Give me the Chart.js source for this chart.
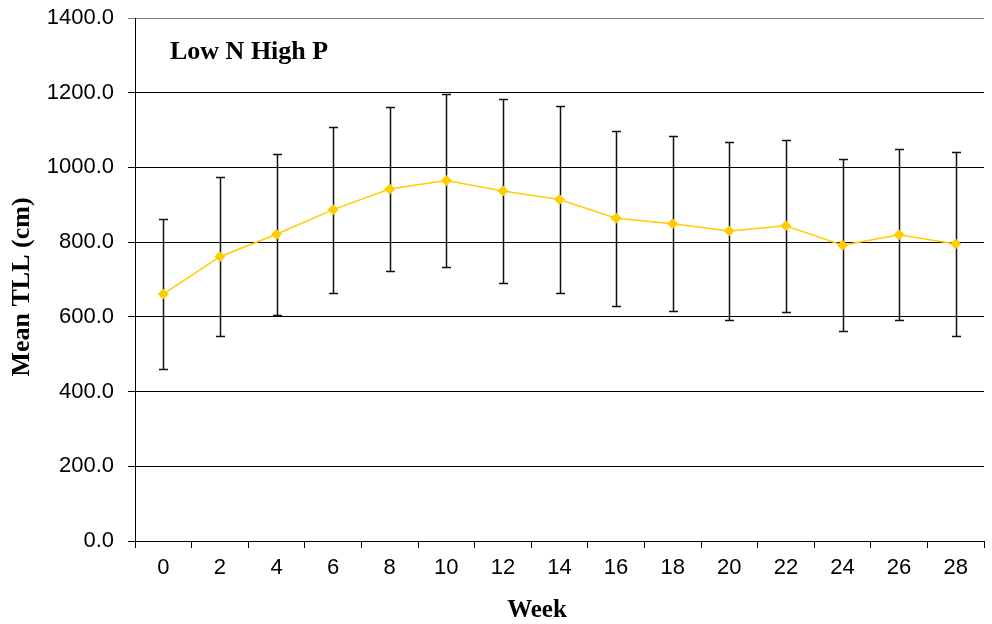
<!DOCTYPE html>
<html>
<head>
<meta charset="utf-8">
<script src="https://cdn.jsdelivr.net/npm/chart.js@4/dist/chart.umd.min.js"></script>
<style>
  html, body { margin: 0; padding: 0; background: #fff; }
  #wrap { width: 992px; height: 624px; position: relative; }
</style>
</head>
<body>
<div id="wrap"><canvas id="c" width="992" height="624"></canvas></div>
<script>
// Weekly mean total leaf length with standard deviation
const weeks = ['0', '2', '4', '6', '8', '10', '12', '14', '16', '18', '20', '22', '24', '26', '28'];
const meanTLL = [661, 761, 821, 887, 942, 965, 937, 914, 864, 849, 830, 844, 792, 820, 795];
const sdTLL = [201, 213, 215, 222, 219, 231, 247, 251, 234, 234, 239, 230, 230, 229, 246];
const yTicks = [0, 200, 400, 600, 800, 1000, 1200, 1400];
const panelLabel = 'Low N High P';
const xTitle = 'Week';
const yTitle = 'Mean TLL (cm)';

const AREA = { left: 135, right: 984, top: 18, bottom: 541 };

// Vertical error bars with caps, drawn beneath the line and markers
const errorBars = {
  id: 'errorBars',
  beforeDatasetsDraw(chart) {
    const ctx = chart.ctx;
    const yScale = chart.scales.y;
    const meta = chart.getDatasetMeta(0);
    ctx.save();
    ctx.strokeStyle = '#111';
    ctx.lineWidth = 1.5;
    meta.data.forEach((pt, i) => {
      const x = Math.round(pt.x) + 0.5;
      const yHi = Math.round(yScale.getPixelForValue(meanTLL[i] + sdTLL[i])) + 0.5;
      const yLo = Math.round(yScale.getPixelForValue(meanTLL[i] - sdTLL[i])) + 0.5;
      ctx.beginPath();
      ctx.moveTo(x, yHi); ctx.lineTo(x, yLo);
      ctx.moveTo(x - 4.5, yHi); ctx.lineTo(x + 4.5, yHi);
      ctx.moveTo(x - 4.5, yLo); ctx.lineTo(x + 4.5, yLo);
      ctx.stroke();
    });
    ctx.restore();
  }
};

// Panel label and axis titles
const labels = {
  id: 'labels',
  afterDraw(chart) {
    const ctx = chart.ctx;
    ctx.save();
    ctx.fillStyle = '#000';
    ctx.font = 'bold 26px "Liberation Serif", "Times New Roman", serif';
    ctx.textAlign = 'left';
    ctx.textBaseline = 'alphabetic';
    ctx.fillText(panelLabel, 170, 59);

    ctx.font = 'bold 25px "Liberation Serif", "Times New Roman", serif';
    ctx.textAlign = 'center';
    ctx.textBaseline = 'middle';
    ctx.fillText(xTitle, 537, 611);

    ctx.font = 'bold 26px "Liberation Serif", "Times New Roman", serif';
    ctx.translate(22, 287);
    ctx.rotate(-Math.PI / 2);
    ctx.fillText(yTitle, 0, 0);
    ctx.restore();
  }
};

new Chart(document.getElementById('c'), {
  type: 'line',
  data: {
    labels: weeks,
    datasets: [{
      data: meanTLL,
      borderColor: '#FFCC00',
      backgroundColor: '#FFCC00',
      borderWidth: 1.5,
      pointStyle: 'rectRot',
      pointRadius: 5,
      pointBorderWidth: 1,
      pointBorderColor: '#FFCC00',
      pointBackgroundColor: '#FFCC00',
      tension: 0,
      fill: false
    }]
  },
  options: {
    responsive: false,
    animation: false,
    devicePixelRatio: 1,
    layout: { padding: { left: 0, right: 992 - AREA.right, top: AREA.top, bottom: 0 } },
    plugins: { legend: { display: false }, tooltip: { enabled: false }, title: { display: false } },
    scales: {
      x: {
        type: 'category',
        offset: true,
        grid: {
          offset: true,
          drawOnChartArea: false,
          drawTicks: true,
          tickLength: 7,
          color: '#000',
          lineWidth: 1
        },
        border: { display: true, color: '#000', width: 1 },
        ticks: {
          color: '#000',
          font: { family: '"Liberation Sans", Arial, sans-serif', size: 22 },
          padding: 7,
          maxRotation: 0,
          autoSkip: false
        },
        afterFit(scale) {
          scale.height = 624 - AREA.bottom;
          scale.paddingLeft = 0;
          scale.paddingRight = 0;
        }
      },
      y: {
        min: 0,
        max: 1400,
        afterBuildTicks(scale) { scale.ticks = yTicks.map(v => ({ value: v })); },
        grid: {
          drawTicks: true,
          tickLength: 7,
          color: ctx => (ctx.tick && ctx.tick.value === 1400 ? '#808080' : '#000'),
          lineWidth: 1
        },
        border: { display: true, color: '#000', width: 1 },
        ticks: {
          color: '#000',
          font: { family: '"Liberation Sans", Arial, sans-serif', size: 22 },
          padding: 14,
          callback: v => Number(v).toFixed(1)
        },
        afterFit(scale) {
          scale.width = AREA.left;
          scale.paddingTop = 0;
          scale.paddingBottom = 0;
        }
      }
    }
  },
  plugins: [errorBars, labels]
});
</script>
</body>
</html>
